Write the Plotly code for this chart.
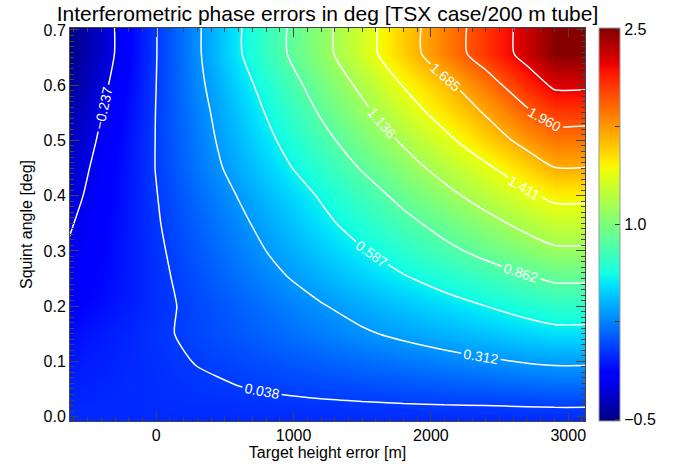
import plotly.graph_objects as go

# Grid coordinates (target height error [m], squint angle [deg])
height_err = [-640, -300, 0, 300, 600, 900, 1200, 1500, 1800, 2100, 2400, 2700, 2900, 3140]
squint = [-0.015, 0.02, 0.05, 0.10, 0.15, 0.20, 0.25, 0.30, 0.35, 0.40, 0.45, 0.50, 0.55, 0.60, 0.657, 0.715]

# Phase error [deg], one row per squint angle
row_m0015 = [-0.005, -0.010, -0.010, -0.012, -0.014, -0.016, -0.018, -0.020, -0.022, -0.024, -0.026, -0.028, -0.030, -0.030]
row_0020 = [-0.021, -0.013, -0.005, 0.000, 0.006, 0.012, 0.018, 0.023, 0.029, 0.034, 0.038, 0.042, 0.045, 0.045]
row_0050 = [-0.040, -0.019, 0.000, 0.017, 0.033, 0.050, 0.067, 0.083, 0.100, 0.117, 0.133, 0.150, 0.160, 0.160]
row_0100 = [-0.073, -0.031, 0.007, 0.043, 0.078, 0.114, 0.149, 0.185, 0.220, 0.255, 0.290, 0.324, 0.340, 0.340]
row_0150 = [-0.107, -0.045, 0.013, 0.069, 0.124, 0.180, 0.236, 0.292, 0.344, 0.394, 0.443, 0.493, 0.525, 0.525]
row_0200 = [-0.160, -0.077, 0.000, 0.076, 0.151, 0.226, 0.301, 0.373, 0.444, 0.516, 0.587, 0.663, 0.710, 0.710]
row_0250 = [-0.197, -0.093, 0.003, 0.099, 0.195, 0.291, 0.383, 0.475, 0.567, 0.657, 0.748, 0.838, 0.890, 0.890]
row_0300 = [-0.225, -0.103, 0.012, 0.124, 0.238, 0.350, 0.462, 0.574, 0.692, 0.810, 0.920, 1.030, 1.100, 1.100]
row_0350 = [-0.254, -0.109, 0.024, 0.150, 0.275, 0.405, 0.538, 0.670, 0.803, 0.936, 1.067, 1.200, 1.280, 1.280]
row_0400 = [-0.290, -0.121, 0.033, 0.177, 0.320, 0.462, 0.605, 0.763, 0.920, 1.075, 1.225, 1.372, 1.460, 1.460]
row_0450 = [-0.325, -0.130, 0.043, 0.211, 0.376, 0.536, 0.705, 0.877, 1.047, 1.212, 1.372, 1.556, 1.680, 1.680]
row_0500 = [-0.365, -0.150, 0.043, 0.230, 0.416, 0.602, 0.795, 0.981, 1.164, 1.354, 1.563, 1.757, 1.860, 1.860]
row_0550 = [-0.405, -0.172, 0.042, 0.246, 0.454, 0.666, 0.881, 1.080, 1.294, 1.503, 1.703, 1.923, 2.050, 2.050]
row_0600 = [-0.460, -0.200, 0.038, 0.269, 0.500, 0.734, 0.962, 1.184, 1.420, 1.629, 1.857, 2.112, 2.270, 2.270]
row_0657 = [-0.510, -0.233, 0.034, 0.286, 0.566, 0.819, 1.057, 1.311, 1.574, 1.827, 2.070, 2.310, 2.490, 2.490]
row_0715 = [-0.510, -0.233, 0.034, 0.286, 0.566, 0.819, 1.057, 1.311, 1.574, 1.827, 2.070, 2.310, 2.490, 2.490]

phase_err = [row_m0015, row_0020, row_0050, row_0100, row_0150, row_0200, row_0250, row_0300,
             row_0350, row_0400, row_0450, row_0500, row_0550, row_0600, row_0657, row_0715]

# Contour levels (as labelled in the reference) and colour range
level_start = -0.23663
level_step = 0.27455
level_end = 2.24
z_min = -0.512
z_max = 2.508
cbar_ticks = [-0.5, 0.25, 1.0, 1.75, 2.5]
cbar_text = ["\u22120.5", "", "1.0", "", "2.5"]

jet = [
    [0.0, "rgb(0,0,128)"], [0.11, "rgb(0,0,255)"], [0.125, "rgb(0,0,255)"],
    [0.34, "rgb(0,219,255)"], [0.35, "rgb(0,230,247)"], [0.375, "rgb(21,255,226)"],
    [0.64, "rgb(239,255,8)"], [0.65, "rgb(247,245,0)"], [0.66, "rgb(255,236,0)"],
    [0.89, "rgb(255,19,0)"], [0.91, "rgb(232,0,0)"], [1.0, "rgb(128,0,0)"],
]

FONT = "Liberation Sans, Arial, sans-serif"

fig = go.Figure()
fig.add_trace(go.Heatmap(
    x=height_err, y=squint, z=phase_err,
    zmin=z_min, zmax=z_max, zsmooth="best",
    colorscale=jet,
    colorbar=dict(
        x=1.027, xanchor="left", xref="paper",
        y=0.5, yanchor="middle", len=1.0, lenmode="fraction",
        thickness=21, thicknessmode="pixels",
        outlinecolor="#999999", outlinewidth=1,
        tickmode="array", tickvals=cbar_ticks, ticktext=cbar_text,
        ticks="inside", ticklen=5, tickcolor="#333333",
        tickfont=dict(size=16, color="black", family=FONT),
        ypad=0, xpad=0,
    ),
    hoverinfo="skip",
))
fig.add_trace(go.Contour(
    x=height_err, y=squint, z=phase_err,
    autocontour=False, showscale=False,
    contours=dict(start=level_start, end=level_end, size=level_step,
                  coloring="none", showlabels=True,
                  labelfont=dict(color="white", size=14, family=FONT),
                  labelformat=".3f"),
    line=dict(color="white", width=1.5, smoothing=0.7),
    hoverinfo="skip",
))

fig.update_layout(
    width=698, height=470,
    margin=dict(l=70, r=113, t=28, b=49),
    paper_bgcolor="white", plot_bgcolor="white",
    font=dict(family=FONT, size=16, color="black"),
    title=dict(text="Interferometric phase errors in deg [TSX case/200 m tube]",
               x=0.5, xref="paper", xanchor="center",
               y=1 - 14 / 470, yref="container", yanchor="middle",
               font=dict(size=21, color="black", family=FONT)),
    xaxis=dict(
        range=[-628, 3122], tick0=0, dtick=1000,
        ticks="inside", ticklen=9, tickcolor="#444444", tickwidth=1,
        minor=dict(dtick=100, ticks="inside", ticklen=4, tickcolor="#444444"),
        showline=True, linecolor="#444444", linewidth=1, mirror="ticks",
        showgrid=False, zeroline=False,
        tickfont=dict(size=16),
        title=dict(text="Target height error [m]", standoff=2, font=dict(size=16)),
    ),
    yaxis=dict(
        range=[-0.008, 0.7036], tick0=0, dtick=0.1, tickformat=".1f",
        ticks="inside", ticklen=9, tickcolor="#444444", tickwidth=1,
        minor=dict(dtick=0.01, ticks="inside", ticklen=4, tickcolor="#444444"),
        showline=True, linecolor="#444444", linewidth=1, mirror="ticks",
        showgrid=False, zeroline=False,
        tickfont=dict(size=16),
        title=dict(text="Squint angle [deg]", standoff=6, font=dict(size=16)),
    ),
)

fig.write_html("out.html")
